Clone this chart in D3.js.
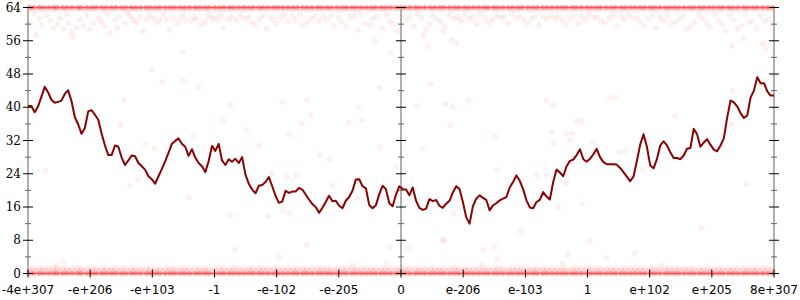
<!DOCTYPE html>
<html>
<head>
<meta charset="utf-8">
<script src="https://cdn.jsdelivr.net/npm/d3@7/dist/d3.min.js"></script>
<style>
body { margin: 0; background: #fff; }
</style>
</head>
<body>
<div id="main"></div>
<script>
// Etiquetas del eje X (posiciones 0..12)
var xLabels = ["-4e+307", "-e+206", "-e+103", "-1", "-e-102", "-e-205", "0",
	"e-206", "e-103", "1", "e+102", "e+205", "8e+307"];
var yTicks = [0, 8, 16, 24, 32, 40, 48, 56, 64];
var yMinor = [4, 12, 20, 28, 36, 44, 52, 60];

// Media móvil (muestras equiespaciadas de izquierda a derecha)
var avg = [
	40.3, 40.3, 38.8, 40.2, 42.5, 44.9, 43.6, 41.8, 41.1, 41.3,
	41.6, 43.2, 44.1, 41.5, 37.6, 35.9, 33.6, 35.0, 39.0, 39.3,
	38.2, 37.0, 33.7, 30.8, 28.5, 28.5, 30.8, 30.5, 27.9, 26.1,
	27.2, 28.4, 28.2, 26.6, 25.8, 25.0, 23.4, 22.7, 21.6, 23.4,
	25.1, 27.0, 29.0, 31.2, 31.9, 32.5, 31.2, 30.5, 28.3, 29.9,
	27.9, 26.6, 25.8, 24.4, 27.0, 30.7, 29.5, 31.2, 27.2, 26.1,
	27.5, 26.9, 27.6, 26.6, 28.0, 23.8, 21.6, 20.2, 19.3, 21.1,
	21.3, 22.0, 23.2, 21.0, 18.7, 17.0, 17.3, 19.9, 19.4, 19.7,
	19.7, 20.6, 20.2, 19.0, 17.8, 16.7, 16.0, 14.6, 15.8, 17.2,
	18.7, 17.4, 17.5, 16.3, 15.7, 17.5, 18.4, 19.9, 22.6, 22.7,
	21.0, 20.5, 16.5, 15.7, 16.4, 19.1, 21.1, 20.3, 16.9, 16.2,
	19.0, 21.0, 20.3, 20.2, 18.8, 20.7, 17.5, 15.8, 15.3, 15.6,
	17.9, 17.4, 17.7, 16.3, 15.8, 16.8, 17.5, 19.5, 21.0, 20.3,
	17.2, 13.5, 12.0, 16.2, 18.0, 18.8, 18.2, 17.7, 15.2, 16.4,
	16.9, 17.6, 18.0, 18.4, 20.7, 22.0, 23.6, 22.3, 20.3, 17.6,
	15.9, 15.7, 17.2, 17.7, 19.6, 18.5, 17.8, 22.0, 25.0, 24.3,
	23.4, 25.8, 27.1, 27.4, 28.5, 29.9, 27.5, 26.9, 27.6, 28.7,
	30.0, 28.0, 26.8, 26.3, 26.3, 26.3, 26.2, 25.4, 24.4, 23.3,
	22.2, 23.3, 27.0, 31.0, 33.5, 30.5, 26.0, 25.3, 27.5, 30.8,
	31.8, 30.8, 29.2, 27.8, 27.8, 27.5, 28.4, 30.0, 30.2, 34.8,
	33.5, 30.5, 31.5, 32.3, 31.0, 29.8, 29.4, 30.8, 32.5, 37.5,
	41.6, 41.2, 40.2, 38.6, 37.4, 38.0, 42.3, 44.0, 47.2, 45.8,
	45.8, 43.8, 42.8, 42.8
];

// Posiciones X de los puntos que forman las bandas en 0 y 64
var bandX = [
	0.02, 0.09, 0.18, 0.25, 0.33, 0.41, 0.47, 0.56, 0.63, 0.71, 0.80, 0.86, 0.95, 1.03, 1.10,
	1.19, 1.26, 1.34, 1.41, 1.50, 1.57, 1.66, 1.73, 1.81, 1.90, 1.97, 2.05, 2.12, 2.21, 2.29,
	2.36, 2.45, 2.52, 2.60, 2.69, 2.76, 2.84, 2.91, 3.00, 3.08, 3.15, 3.24, 3.31, 3.39, 3.47,
	3.55, 3.62, 3.71, 3.78, 3.86, 3.95, 4.02, 4.10, 4.18, 4.26, 4.33, 4.42, 4.49, 4.57, 4.66,
	4.73, 4.81, 4.88, 4.97, 5.05, 5.12, 5.21, 5.28, 5.36, 5.44, 5.52, 5.59, 5.68, 5.75, 5.83,
	5.92, 5.99, 6.06, 6.14, 6.23, 6.30, 6.38, 6.47, 6.54, 6.62, 6.69, 6.78, 6.86, 6.93, 7.02,
	7.09, 7.17, 7.25, 7.33, 7.40, 7.49, 7.56, 7.64, 7.73, 7.80, 7.88, 7.95, 8.04, 8.12, 8.19,
	8.28, 8.35, 8.43, 8.51, 8.59, 8.66, 8.75, 8.82, 8.90, 8.99, 9.06, 9.14, 9.21, 9.30, 9.38,
	9.45, 9.54, 9.61, 9.69, 9.77, 9.85, 9.92, 10.01, 10.08, 10.16, 10.25, 10.32, 10.40, 10.47, 10.56,
	10.64, 10.71, 10.80, 10.87, 10.95, 11.03, 11.11, 11.18, 11.27, 11.34, 11.42, 11.51, 11.58, 11.66, 11.73,
	11.82, 11.90, 11.98
];
// Filas de las bandas: valor, radio y opacidad
var bandCore = [64, 0];
var bandHalo = [63.7, 0.55, 1.1];

// Nube de puntos cerca de 60 y puntos dispersos [x, valor]
var cloud = [
	[0.03, 60.3], [0.19, 61.4], [0.22, 59.8], [0.35, 60.8], [0.41, 59.0], [0.52, 61.4], [0.57, 58.8],
	[0.65, 60.2], [0.70, 58.2], [0.84, 61.2], [0.89, 59.6], [0.99, 58.7], [1.05, 60.2], [1.14, 61.4],
	[1.24, 59.6], [1.32, 57.8], [1.40, 61.0], [1.48, 61.7], [1.56, 60.2], [1.64, 61.9], [1.69, 61.0],
	[1.80, 61.7], [1.85, 58.2], [1.91, 61.2], [2.02, 61.4], [2.12, 61.0], [2.23, 61.2], [2.28, 58.6],
	[2.34, 61.2], [2.45, 61.4], [2.55, 61.0], [2.63, 60.8], [2.71, 61.2], [2.85, 60.6], [2.95, 61.4],
	[3.05, 61.0], [3.14, 59.2], [3.22, 61.3], [3.35, 60.9], [3.48, 61.5], [3.60, 60.4], [3.72, 61.2],
	[3.84, 58.9], [3.95, 61.0], [4.06, 61.6], [4.18, 60.7], [4.30, 61.2], [4.42, 59.8], [4.55, 61.4],
	[4.68, 60.8], [4.80, 61.1], [4.93, 59.5], [5.05, 60.5], [5.18, 61.8], [5.30, 58.6], [5.42, 60.2],
	[5.55, 61.3], [5.70, 59.0], [5.82, 60.6], [5.95, 58.4], [6.08, 60.9], [6.20, 59.4], [6.33, 61.5],
	[6.45, 60.0], [6.58, 61.2], [6.70, 59.3], [6.85, 61.4], [6.97, 60.8], [7.10, 61.3], [7.22, 59.9],
	[7.35, 61.5], [7.47, 61.0], [7.60, 61.6], [7.72, 60.2], [7.85, 61.4], [7.98, 61.0], [8.10, 61.5],
	[8.22, 59.6], [8.35, 61.3], [8.48, 61.6], [8.60, 60.9], [8.72, 61.4], [8.85, 60.1], [8.97, 61.2],
	[9.10, 61.6], [9.22, 60.7], [9.35, 61.4], [9.48, 59.4], [9.60, 61.1], [9.72, 61.5], [9.85, 60.5],
	[9.97, 61.2], [10.10, 59.0], [10.22, 61.0], [10.35, 60.2], [10.48, 61.3], [10.60, 58.8], [10.72, 60.6],
	[10.85, 61.4], [10.97, 59.2], [11.10, 60.8], [11.22, 58.4], [11.35, 61.0], [11.48, 59.6], [11.60, 60.4],
	[11.72, 58.9], [11.85, 60.7], [11.96, 59.5],
	[0.10, 62.5], [0.30, 62.0], [0.48, 60.0], [0.62, 62.3], [0.78, 59.2], [0.95, 62.1], [1.18, 60.6],
	[1.28, 62.4], [1.44, 59.0], [1.60, 62.6], [1.74, 60.4], [1.95, 62.0], [2.07, 60.3], [2.18, 62.3],
	[2.40, 60.2], [2.50, 62.1], [2.67, 61.8], [2.78, 60.0], [2.90, 62.2], [3.00, 61.6], [3.10, 62.0],
	[3.28, 61.7], [3.42, 62.2], [3.55, 61.8], [3.66, 59.7], [3.78, 62.0], [3.90, 61.7], [4.00, 60.1],
	[4.12, 62.1], [4.25, 61.9], [4.37, 62.3], [4.50, 60.5], [4.62, 62.0], [4.75, 61.7], [4.88, 62.2],
	[5.00, 61.6], [5.12, 59.4], [5.25, 61.9], [5.36, 62.3], [5.50, 59.8], [5.62, 61.8], [5.77, 62.3],
	[5.89, 60.2], [6.02, 62.0], [6.14, 61.7], [6.27, 62.4], [6.40, 58.7], [6.52, 62.0], [6.64, 60.6],
	[6.77, 62.2], [6.91, 61.7], [7.03, 62.2], [7.16, 61.7], [7.28, 62.3], [7.41, 60.4], [7.53, 62.0],
	[7.66, 61.8], [7.78, 62.4], [7.91, 61.7], [8.04, 60.3], [8.16, 62.0], [8.28, 61.7], [8.41, 62.2],
	[8.54, 61.8], [8.66, 60.0], [8.78, 62.1], [8.91, 61.8], [9.03, 62.3], [9.16, 61.7], [9.28, 60.2],
	[9.41, 62.1], [9.54, 61.8], [9.66, 62.3], [9.79, 61.5], [9.91, 59.8], [10.04, 62.0], [10.16, 61.6],
	[10.29, 62.3], [10.42, 60.6], [10.54, 62.0], [10.66, 59.5], [10.79, 62.2], [10.91, 60.3], [11.04, 62.4],
	[11.16, 59.9], [11.28, 62.1], [11.41, 58.9], [11.54, 62.3], [11.66, 60.8], [11.79, 62.0], [11.92, 61.0],
	[2.49, 53.4], [1.99, 49.1], [2.16, 46.1], [2.50, 46.4], [2.74, 44.8], [0.13, 57.4], [0.73, 57.0],
	[1.54, 41.7], [1.49, 35.7], [1.89, 31.1], [2.04, 30.0], [2.66, 33.1], [0.28, 24.7], [1.64, 21.1],
	[1.77, 22.7], [2.59, 18.3], [3.25, 40.5], [4.10, 41.3], [4.49, 41.7], [3.14, 36.9], [3.51, 34.5],
	[4.20, 33.5], [4.54, 38.1], [4.40, 36.1], [5.16, 36.3], [5.37, 36.9], [5.31, 40.0], [3.72, 30.9],
	[4.69, 28.5], [4.85, 27.5], [5.66, 30.4], [3.92, 24.1], [4.16, 23.1], [4.32, 23.5], [4.90, 21.1],
	[5.92, 25.7], [3.25, 14.1], [3.87, 13.7], [4.20, 14.5], [4.10, 15.3], [5.29, 18.1], [6.26, 40.3],
	[6.71, 40.8], [6.83, 40.1], [7.09, 41.5], [8.34, 41.6], [8.45, 40.5], [6.79, 35.6], [6.34, 29.9],
	[7.52, 32.9], [8.42, 34.1], [8.45, 31.3], [8.66, 33.7], [8.75, 33.6], [8.71, 32.0], [8.83, 36.8],
	[8.91, 36.5], [9.09, 31.5], [7.54, 24.9], [8.18, 23.7], [8.34, 23.7], [8.66, 21.8], [8.53, 15.9],
	[8.91, 16.7], [6.84, 14.5], [7.93, 10.3], [6.67, 8.2], [9.36, 42.3], [9.46, 42.3], [10.41, 37.9],
	[11.33, 43.9], [11.32, 35.7], [9.95, 31.9], [9.51, 29.1], [9.60, 29.5], [9.89, 25.1], [11.56, 21.5],
	[5.58, 55.8], [5.84, 53.0], [6.44, 54.6], [6.48, 45.5], [5.65, 44.7], [6.82, 56.2], [6.90, 55.4],
	[6.36, 57.3], [6.68, 58.2], [11.33, 54.8], [11.82, 55.4], [11.51, 56.6], [11.87, 54.2], [10.84, 10.9],
	[0.57, 2.8], [0.46, 2.0], [3.33, 5.7], [4.48, 6.9], [4.04, 3.9], [5.21, 2.0], [5.77, 2.5],
	[5.82, 6.4], [6.12, 6.1], [6.68, 7.7], [7.32, 5.7], [7.50, 6.3], [7.55, 3.5], [7.30, 2.0],
	[8.69, 4.5], [8.60, 2.5], [9.04, 7.9], [9.31, 3.7], [9.76, 4.9], [10.19, 2.0]
];

// Dimensiones del área de dibujo
var width = 800, height = 300;
var plotLeft = 28, plotRight = 774, plotTop = 7.5, plotBottom = 273.5;

var svg = d3.select("#main").append("svg")
	.attr("width", width)
	.attr("height", height);

var x = d3.scaleLinear().domain([0, 12]).range([plotLeft, plotRight]);
var y = d3.scaleLinear().domain([0, 64]).range([plotBottom, plotTop]);
var xi = d3.scaleLinear().domain([0, avg.length - 1]).range([plotLeft, plotRight]);

// Halo claro de las bandas
var haloData = [];
bandHalo.forEach(function(v) {
	bandX.forEach(function(bx) { haloData.push([bx, v]); });
});
svg.append("g").selectAll("circle").data(haloData).enter().append("circle")
	.attr("cx", function(d) { return x(d[0]); })
	.attr("cy", function(d) { return y(d[1]); })
	.attr("r", 3.5)
	.attr("fill", "red")
	.attr("fill-opacity", 0.07);

// Puntos dispersos
svg.append("g").selectAll("circle").data(cloud).enter().append("circle")
	.attr("cx", function(d) { return x(d[0]); })
	.attr("cy", function(d) { return y(d[1]); })
	.attr("r", 3)
	.attr("fill", "red")
	.attr("fill-opacity", 0.06);

// Núcleo de las bandas (valores 0 y 64)
var coreData = [];
bandCore.forEach(function(v) {
	bandX.forEach(function(bx) { coreData.push([bx, v]); });
});
svg.append("g").selectAll("circle").data(coreData).enter().append("circle")
	.attr("cx", function(d) { return x(d[0]); })
	.attr("cy", function(d) { return y(d[1]); })
	.attr("r", 2.5)
	.attr("fill", "red")
	.attr("fill-opacity", 0.3);
svg.append("g").selectAll("line").data(bandCore).enter().append("line")
	.attr("x1", plotLeft).attr("x2", plotRight)
	.attr("y1", function(d) { return y(d); })
	.attr("y2", function(d) { return y(d); })
	.attr("stroke", "#e33")
	.attr("stroke-opacity", 0.7)
	.attr("stroke-width", 1.5);

// Ejes verticales (izquierda, centro, derecha)
[0, 6, 12].forEach(function(p) {
	var ax = x(p);
	svg.append("line")
		.attr("x1", ax).attr("x2", ax)
		.attr("y1", plotTop).attr("y2", plotBottom)
		.attr("stroke", "#b0b0b0")
		.attr("stroke-width", 2);
	yMinor.forEach(function(t) {
		svg.append("line")
			.attr("x1", ax - 3).attr("x2", ax + 3)
			.attr("y1", y(t)).attr("y2", y(t))
			.attr("stroke", "#666").attr("stroke-width", 1);
	});
	yTicks.forEach(function(t) {
		svg.append("line")
			.attr("x1", ax - 5).attr("x2", ax + 5)
			.attr("y1", y(t)).attr("y2", y(t))
			.attr("stroke", "#000").attr("stroke-width", 1);
	});
});

// Línea de la media
var line = d3.line()
	.x(function(d, i) { return xi(i); })
	.y(function(d) { return y(d); });
svg.append("path")
	.datum(avg)
	.attr("d", line)
	.attr("fill", "none")
	.attr("stroke", "#8b0000")
	.attr("stroke-width", 2)
	.attr("stroke-linejoin", "round");

// Marcas y etiquetas del eje X
d3.range(13).forEach(function(i) {
	svg.append("line")
		.attr("x1", x(i)).attr("x2", x(i))
		.attr("y1", plotBottom - 4).attr("y2", plotBottom + 4)
		.attr("stroke", "#000").attr("stroke-width", 1);
	svg.append("text")
		.attr("x", x(i))
		.attr("y", 294)
		.attr("text-anchor", "middle")
		.attr("font-family", "DejaVu Sans")
		.attr("font-size", 12)
		.text(xLabels[i]);
});

// Etiquetas del eje Y
yTicks.forEach(function(t) {
	svg.append("text")
		.attr("x", 21)
		.attr("y", y(t))
		.attr("dy", "0.35em")
		.attr("text-anchor", "end")
		.attr("font-family", "DejaVu Serif")
		.attr("font-size", 12)
		.text(t);
});
</script>
</body>
</html>
